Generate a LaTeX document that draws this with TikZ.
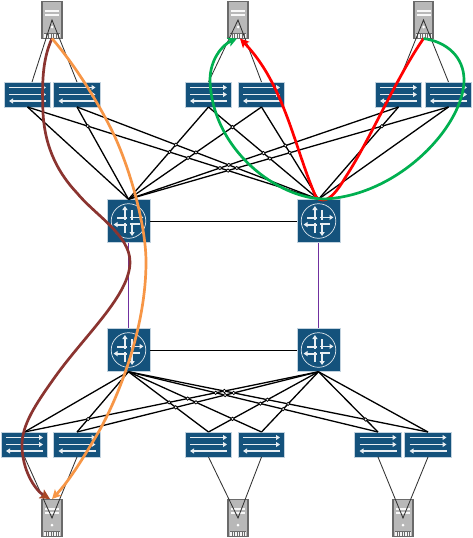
\documentclass[tikz,border=0pt]{standalone}
\usetikzlibrary{arrows.meta,calc}
\definecolor{jblue}{HTML}{14527C}
\definecolor{jedge}{HTML}{C3D3DF}
\definecolor{srvfill}{HTML}{B8B8B8}
\definecolor{srvedge}{HTML}{6A6A6A}
\definecolor{cbrown}{HTML}{8B3430}
\definecolor{corange}{HTML}{F79646}
\definecolor{cgreen}{HTML}{00B050}
\definecolor{cpurple}{HTML}{7030A0}
\tikzset{
  x=1pt,y=-1pt,
  switchbox/.style={rectangle,draw=jedge,fill=jblue,line width=1pt,minimum width=46.5pt,minimum height=25pt,inner sep=0pt,outer sep=0pt},
  routerbox/.style={rectangle,draw=jedge,fill=jblue,line width=1pt,minimum width=43pt,minimum height=43.5pt,inner sep=0pt,outer sep=0pt},
  serverbox/.style={rectangle,draw=srvedge,fill=srvfill,line width=1.6pt,minimum width=19.5pt,minimum height=37pt,inner sep=0pt,outer sep=0pt},
  fabric/.style={black,line width=1.3pt},
  access/.style={black!80,line width=.85pt},
  jump/.style={fill=white,draw=black,line width=.7pt},
  flow/.style={line width=2.7pt,line join=round},
  flowtip/.style={-{Stealth[length=9pt,width=9pt,inset=2pt]}},
  whiteline/.style={white!90!jblue,line width=1.8pt},
  whitetip/.style={-{Triangle[length=4pt,width=5pt]}},
  switchicon/.pic={
    \draw[whiteline,whitetip] (-18.5,-7) -- (18.5,-7);
    \draw[whiteline,whitetip] (-18.5,0) -- (18.5,0);
    \draw[whiteline,whitetip] (18.5,6.5) -- (-18.5,6.5);
  },
  routericon/.pic={
    \draw[white!85!jblue,line width=.7pt] (0,0) circle (17.3);
    \draw[whiteline,whitetip] (-3.6,-1.5) -- (-3.6,-15);
    \draw[whiteline] (3.3,-1.5) -- (3.3,-11.5);
    \draw[whiteline,whitetip] (3.6,1.5) -- (3.6,15);
    \draw[whiteline] (-3.3,1.5) -- (-3.3,11.5);
    \draw[whiteline,whitetip] (1.5,-3.6) -- (15,-3.6);
    \draw[whiteline] (-1.5,-3.3) -- (-11.5,-3.3);
    \draw[whiteline,whitetip] (-1.5,3.6) -- (-15,3.6);
    \draw[whiteline] (1.5,3.3) -- (11.5,3.3);
  },
  servericon/.pic={
    \fill[white!90!srvfill] (-7,-10) rectangle (7,-8);
    \fill[white!90!srvfill] (-7,-6) rectangle (7,-4);
    \fill[white] (0,7) circle (1.5);
    \fill[white!85!srvfill] (-8,13) rectangle (8,17.6);
    \foreach \vx in {-6,-3.5,...,6.5} \draw[srvedge,line width=.6pt] (\vx,13) -- (\vx,17.6);
    \draw[srvedge,line width=.6pt] (-8,13) -- (8,13);
  },
}
\newcommand{\jumpsat}[3]{%
  \foreach \ja/\jax in {#1} {
    \foreach \jb/\jbx in {#1} {
      \pgfmathsetmacro{\jdd}{\jax-\jbx}
      \ifdim\jdd pt>0pt
        \pgfmathsetmacro{\jtt}{\jdd/(\jdd+190)}
        \path[jump] ($(\ja.#2)!\jtt!(#3)$) circle (1.7);
      \fi
    }
  }%
}
\begin{document}
\begin{tikzpicture}
\useasboundingbox (0,0) rectangle (473,538);
\fill[white] (0,0) rectangle (473,538);

% servers
\node[serverbox] (st1) at (52,20) {};
\node[serverbox] (st2) at (238,20) {};
\node[serverbox] (st3) at (423.5,20) {};
\node[serverbox] (sb1) at (52,518) {};
\node[serverbox] (sb2) at (238,518) {};
\node[serverbox] (sb3) at (403,518) {};
\foreach \n in {st1,st2,st3,sb1,sb2,sb3} \pic at (\n) {servericon};

% switches
\node[switchbox] (ta) at (27.5,94.5) {};
\node[switchbox] (tb) at (77,94.5) {};
\node[switchbox] (tc) at (208.5,94.5) {};
\node[switchbox] (td) at (261.5,94.5) {};
\node[switchbox] (te) at (398.5,94.5) {};
\node[switchbox] (tf) at (448.5,94.5) {};
\node[switchbox] (ba) at (24.5,444.5) {};
\node[switchbox] (bb) at (77,444.5) {};
\node[switchbox] (bc) at (208.5,444.5) {};
\node[switchbox] (bd) at (261.5,444.5) {};
\node[switchbox] (be) at (378,444.5) {};
\node[switchbox] (bf) at (428,444.5) {};
\foreach \n in {ta,tb,tc,td,te,tf,ba,bb,bc,bd,be,bf} \pic at (\n) {switchicon};

% routers
\node[routerbox] (r1) at (128.5,221) {};
\node[routerbox] (r2) at (318.5,221) {};
\node[routerbox] (r3) at (128.5,350) {};
\node[routerbox] (r4) at (318.5,350) {};
\foreach \n in {r1,r2,r3,r4} \pic at (\n) {routericon};

% router links
\draw[cpurple,line width=1pt] (r1.south) -- (r3.north);
\draw[cpurple,line width=1pt] (r2.south) -- (r4.north);
\draw[green!50!olive!70,line width=1.2pt] ($(r1.east)+(0,.6)$) -- ($(r2.west)+(0,.6)$);
\draw[black,line width=.8pt] (r1.east) -- (r2.west);
\draw[cyan!60!gray,line width=1.2pt] ($(r3.east)+(0,.6)$) -- ($(r4.west)+(0,.6)$);
\draw[black,line width=.8pt] (r3.east) -- (r4.west);

% fabric links
\foreach \n in {ta,tb,tc,td,te,tf} {
  \draw[fabric] (\n.south) -- (r1.north);
  \draw[fabric] (\n.south) -- (r2.north);
}
\foreach \n in {ba,bb,bc,bd,be,bf} {
  \draw[fabric] (\n.north) -- (r3.south);
  \draw[fabric] (\n.north) -- (r4.south);
}
% line jumps at the crossings
\jumpsat{ta/27.5,tb/77,tc/208.5,td/261.5,te/398.5,tf/448.5}{south}{r1.north}
\jumpsat{ba/24.5,bb/77,bc/208.5,bd/261.5,be/378,bf/428}{north}{r3.south}

% access links
\draw[access] ($(ta.north)+(4.5,0)$) -- (st1.center) -- (tb.north);
\draw[access] (tc.north) -- (st2.center) -- (td.north);
\draw[access] (te.north) -- (st3.center) -- (tf.north);
\draw[access] (ba.south) -- (sb1.center) -- (bb.south);
\draw[access] (bc.south) -- (sb2.center) -- (bd.south);
\draw[access] (be.south) -- (sb3.center) -- (bf.south);

% traffic flows
\draw[flow,red,flowtip] (st3.south) .. controls (395,80) and (370,140) .. (345,178)
  .. controls (338,190) and (330,200) .. (323,200)
  .. controls (320,200) and (318,199) .. (316,197)
  .. controls (295,150) and (285,85) .. (240,38.5);
\draw[flow,cgreen,flowtip] (st3.south) .. controls (448,42) and (464,58) .. (464,80)
  .. controls (464,125) and (400,195) .. (325,199)
  .. controls (278,199) and (212,150) .. (210,80)
  .. controls (210,60) and (222,45) .. (237,38.5);
\draw[flow,cbrown,-{Stealth[length=10pt,width=10pt,inset=2pt,color=cbrown!75!orange]}]
  (st1.south) .. controls (42,60) and (42,85) .. (43,113)
  .. controls (45,150) and (60,175) .. (77,193)
  .. controls (95,215) and (130,235) .. (130,262)
  .. controls (130,295) and (85,335) .. (55,377)
  .. controls (35,405) and (22,425) .. (22,445)
  .. controls (22,470) and (35,490) .. (50,499);
\draw[flow,corange,flowtip] (st1.south) .. controls (75,65) and (100,105) .. (115,137)
  .. controls (130,170) and (146,225) .. (146,262)
  .. controls (146,330) and (117,400) .. (98,433)
  .. controls (85,455) and (70,480) .. (52,499);
\end{tikzpicture}
\end{document}
